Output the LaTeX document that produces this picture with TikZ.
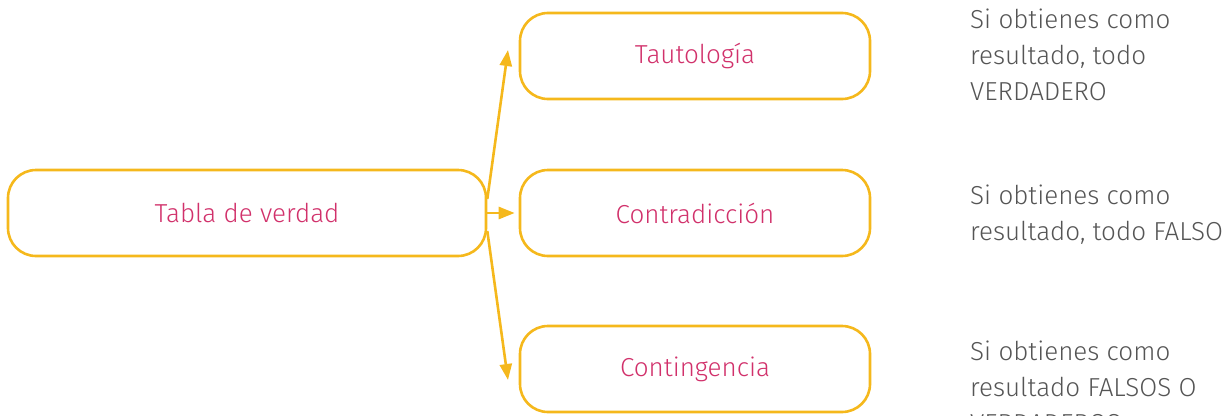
\documentclass[tikz,border=0pt]{standalone}
\usepackage{fontspec}
\setmainfont{Fira Sans}[UprightFont=* Light]
\usetikzlibrary{positioning,arrows.meta}
\definecolor{amarillo}{HTML}{F5B81C}
\definecolor{rosa}{HTML}{D1316B}
\definecolor{gris}{HTML}{555555}
\begin{document}
\begin{tikzpicture}[x=1pt, y=-1pt,
    caja/.style={draw=amarillo, line width=2.6pt, rounded corners=28pt, minimum height=86pt, text=rosa, font=\fontsize{26}{30}\selectfont},
    nota/.style={anchor=north west, align=left, text=gris, inner sep=0pt, font=\fontsize{26}{36}\selectfont},
    flecha/.style={draw=amarillo, line width=2.6pt, -{Triangle[length=16pt, width=12pt]}}]

    \useasboundingbox (0,0) rectangle (1228,415);

    % Cajas
    \node[caja, minimum width=478pt] (tabla) at (247,213) {Tabla de verdad};
    \node[caja, minimum width=350pt] (tauto) at (695,56) {Tautología};
    \node[caja, minimum width=350pt] (contra) at (695,213) {Contradicción};
    \node[caja, minimum width=350pt] (conti) at (695,369) {Contingencia};

    % Flechas
    \draw[flecha] ([yshift=14pt]tabla.east) -- (508,50);
    \draw[flecha] (tabla.east) -- ([xshift=-4pt]contra.west);
    \draw[flecha] ([yshift=-18pt]tabla.east) -- (508,380);

    % Notas
    \node[nota] (n1) at (970,9) {Si obtienes como\\resultado, todo\\VERDADERO};
    \node[nota] (n2) at (970,185) {Si obtienes como\\resultado, todo FALSO};
    \node[nota] (n3) at (970,341) {Si obtienes como\\resultado FALSOS O\\VERDADEROS};

\end{tikzpicture}
\end{document}
